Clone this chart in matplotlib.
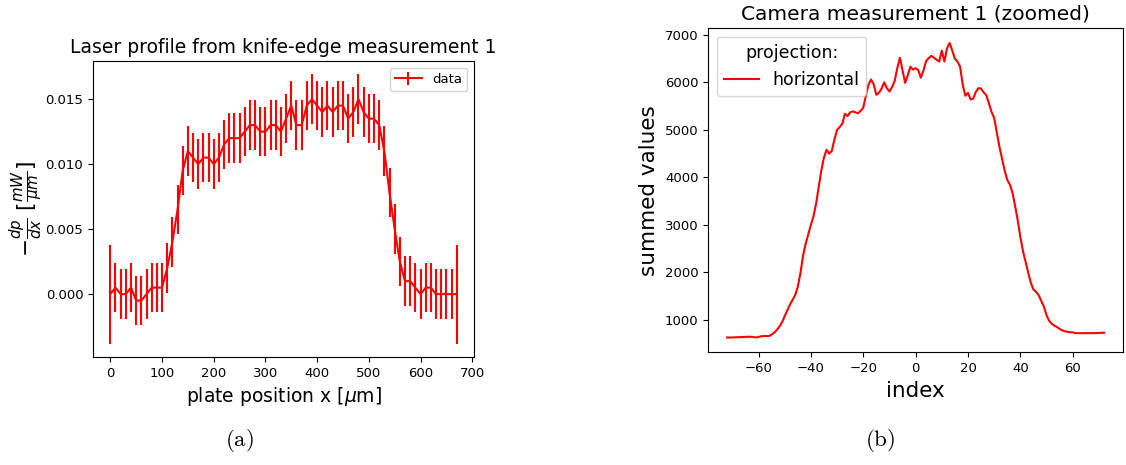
import numpy as np
import matplotlib
matplotlib.use("Agg")
import matplotlib.pyplot as plt

plt.rcParams['mathtext.fontset'] = 'dejavusans'

# ---- Panel (a): knife-edge derivative profile ----
plate_x = list(range(0, 680, 10))
dpdx = [0.0, 0.0005, 0.0, 0.0, 0.0005, -0.0005, -0.0005, 0.0, 0.0005, 0.0005,
        0.0005, 0.002, 0.004, 0.0065, 0.0095, 0.011, 0.0105, 0.010, 0.0105, 0.0105,
        0.010, 0.0105, 0.0115, 0.012, 0.012, 0.012, 0.0125, 0.013, 0.013, 0.0125,
        0.0125, 0.013, 0.013, 0.0125, 0.0135, 0.0145, 0.013, 0.013, 0.0145, 0.015,
        0.0145, 0.014, 0.0145, 0.014, 0.0145, 0.0145, 0.0135, 0.014, 0.015, 0.014,
        0.0135, 0.0135, 0.013, 0.011, 0.0078, 0.005, 0.0025, 0.001, 0.001, 0.0005,
        0.0, 0.0005, 0.0005, 0.0, 0.0, 0.0, 0.0, 0.0]
dpdx_err = [0.0038] + [0.0019] * 66 + [0.0038]

# ---- Panel (b): camera projection ----
cam_index = list(range(-72, 73))
cam_sum = [630, 628, 630, 632, 635, 637, 640, 642, 645, 645,
           638, 630, 640, 655, 660, 662, 660, 690, 730, 790,
           860, 950, 1080, 1200, 1320, 1420, 1520, 1700, 1980, 2350,
           2600, 2800, 3000, 3180, 3450, 3800, 4150, 4420, 4580, 4500,
           4560, 4800, 5000, 5060, 5130, 5340, 5290, 5370, 5390, 5370,
           5350, 5400, 5470, 5720, 5950, 6060, 5960, 5740, 5780, 5870,
           6000, 5880, 5810, 5900, 6030, 6300, 6520, 6250, 5990, 6150,
           6330, 6270, 6300, 6260, 6100, 6250, 6450, 6510, 6560, 6520,
           6480, 6440, 6670, 6440, 6720, 6830, 6670, 6500, 6440, 6330,
           5950, 5720, 5780, 5640, 5660, 5800, 5880, 5870, 5790, 5730,
           5560, 5380, 5250, 4950, 4650, 4400, 4150, 3950, 3850, 3680,
           3400, 3100, 2750, 2450, 2220, 2000, 1780, 1640, 1590, 1520,
           1400, 1280, 1100, 980, 920, 880, 850, 810, 780, 760,
           750, 740, 738, 722, 720, 720, 720, 720, 720, 720,
           720, 722, 725, 728, 730]

fig = plt.figure(figsize=(11.26, 4.65), dpi=100)

ax1 = fig.add_axes([0.0826, 0.2323, 0.3384, 0.6366])
ax1.errorbar(plate_x, dpdx, yerr=dpdx_err, color='red', lw=1.5, label='data')
ax1.set_title('Laser profile from knife-edge measurement 1', fontsize=13.5)
ax1.set_xlabel(r'plate position x [$\mu$m]', fontsize=13.5)
ax1.set_ylabel(r'$-\frac{dp}{dx}$ [$\frac{mW}{\mu m}$]', fontsize=15.5, labelpad=0)
ax1.set_xticks([0, 100, 200, 300, 400, 500, 600, 700])
ax1.set_yticks([0.0, 0.005, 0.010, 0.015])
ax1.tick_params(labelsize=9.5)
ax1.legend(loc='upper right', fontsize=9.5)

ax2 = fig.add_axes([0.629, 0.2424, 0.3683, 0.6968])
ax2.plot(cam_index, cam_sum, color='red', lw=1.5, label='horizontal')
ax2.set_title('Camera measurement 1 (zoomed)', fontsize=14.5)
ax2.set_xlabel('index', fontsize=15.5)
ax2.set_ylabel('summed values', fontsize=15.5)
ax2.set_xticks([-60, -40, -20, 0, 20, 40, 60])
ax2.set_yticks([1000, 2000, 3000, 4000, 5000, 6000, 7000])
ax2.tick_params(labelsize=9.5)
ax2.legend(loc='upper left', title='projection:', fontsize=12.5, title_fontsize=12.5)

fig.text(0.2131, 0.053, r'$\mathrm{(a)}$', ha='center', va='center', fontsize=16.5,
         math_fontfamily='cm')
fig.text(0.7815, 0.053, r'$\mathrm{(b)}$', ha='center', va='center', fontsize=16.5,
         math_fontfamily='cm')

fig.savefig('out.png', dpi=100)
